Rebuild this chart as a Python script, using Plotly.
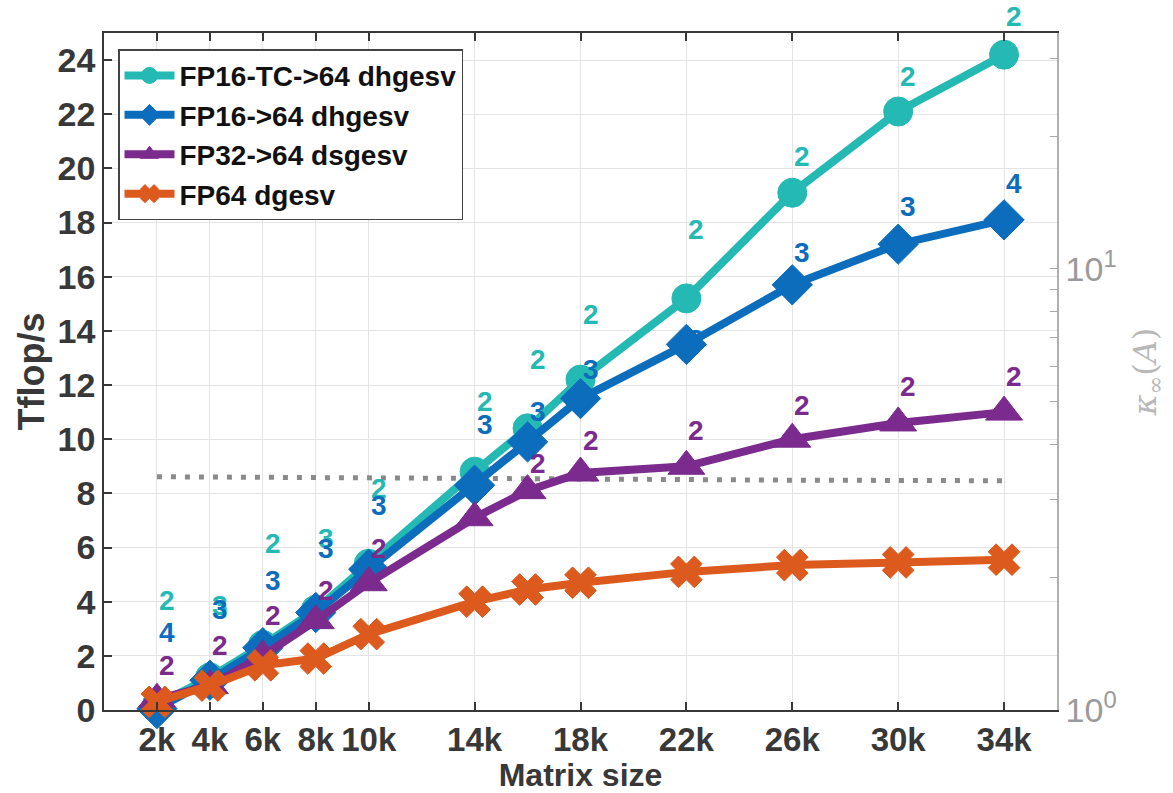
import plotly.graph_objects as go

# ---------------- data ----------------
sizes_k = [2, 4, 6, 8, 10, 14, 16, 18, 22, 26, 30, 34]
tick_vals = [2, 4, 6, 8, 10, 14, 18, 22, 26, 30, 34]
tick_text = ["2k", "4k", "6k", "8k", "10k", "14k", "18k", "22k", "26k", "30k", "34k"]

fp16tc = [0.2, 1.2, 2.4, 3.7, 5.4, 8.8, 10.4, 12.2, 15.2, 19.1, 22.1, 24.2]
fp16 = [0.05, 1.1, 2.3, 3.6, 5.2, 8.3, 9.9, 11.5, 13.5, 15.7, 17.2, 18.1]
fp32 = [0.4, 0.9, 2.0, 3.3, 4.7, 7.1, 8.1, 8.75, 9.0, 10.0, 10.6, 11.0]
fp64 = [0.3, 0.9, 1.65, 1.9, 2.8, 4.0, 4.45, 4.7, 5.1, 5.35, 5.45, 5.55]

kappa = [3.38, 3.38, 3.37, 3.37, 3.36, 3.35, 3.35, 3.34, 3.33, 3.32, 3.32, 3.31]

iters_fp16tc = ["2", "3", "2", "3", "2", "2", "2", "2", "2", "2", "2", "2"]
iters_fp16 = ["4", "3", "3", "3", "3", "3", "3", "3", "3", "3", "3", "4"]
iters_fp32 = ["2", "2", "2", "2", "2", "", "2", "2", "2", "2", "2", "2"]

label_y_fp16tc = [4.05, 3.85, 6.15, 6.35, 8.17, 11.41, 12.96, 14.61, 17.74, 20.43, 23.41, 25.62]
label_y_fp16 = [2.87, 3.70, 4.78, 5.95, 7.54, 10.56, 11.04, 12.59, 13.69, 16.89, 18.59, 19.43]
label_y_fp32 = [1.66, 2.39, 3.50, 4.42, 5.96, 8.83, 9.09, 9.94, 10.31, 11.23, 11.96, 12.33]

names = ["FP16-TC->64 dhgesv", "FP16->64 dhgesv", "FP32->64 dsgesv", "FP64 dgesv"]
colors = ["#25b9b3", "#0b6dbb", "#7b2a8d", "#dc5a1e"]

kappa_ticks = [1, 2, 3, 4, 5, 6, 7, 8, 9, 10, 20, 30]
kappa_ticktext = ["10<sup>0</sup>", "", "", "", "", "", "", "", "", "10<sup>1</sup>", "", ""]

Y_MAX = 25.0
PLOT_H = 677  # plot area height in px (793 - 33 - 83)

# ---------------- figure ----------------
fig = go.Figure()

# condition number (right axis, base y axis so that it is drawn below the series)
fig.add_trace(go.Scatter(
    x=sizes_k, y=kappa, mode="lines", yaxis="y",
    line=dict(color="#8a8a8a", width=5, dash="5px,9px"),
    showlegend=False, hoverinfo="skip"))

series = [fp16tc, fp16, fp32, fp64]
symbols = ["circle", "diamond", "triangle-up", "x"]
msizes = [29, 31, 32, 28]
for vals, name, col, sym, ms in zip(series, names, colors, symbols, msizes):
    fig.add_trace(go.Scatter(
        x=sizes_k, y=vals, mode="lines+markers", name=name, yaxis="y2",
        line=dict(color=col, width=8),
        marker=dict(symbol=sym, size=ms, color=col,
                    line=dict(color=col, width=1)),
        cliponaxis=False))

annotations = []
for texts, ys, col in [(iters_fp16tc, label_y_fp16tc, colors[0]),
                       (iters_fp16, label_y_fp16, colors[1]),
                       (iters_fp32, label_y_fp32, colors[2])]:
    for xv, yv, t in zip(sizes_k, ys, texts):
        if not t:
            continue
        y_in = min(yv, Y_MAX)
        annotations.append(dict(
            x=xv, y=y_in, xref="x", yref="y2", text=t, showarrow=False,
            xanchor="left", yanchor="middle",
            yshift=(yv - y_in) * PLOT_H / Y_MAX,
            font=dict(family="Liberation Sans", size=28, color=col, weight="bold")))

dark = "#383838"
fig.update_layout(
    width=1173, height=793,
    margin=dict(l=104, r=116, t=33, b=83),
    paper_bgcolor="white", plot_bgcolor="white",
    annotations=annotations,
    xaxis=dict(
        range=[0, 36], tickvals=tick_vals, ticktext=tick_text,
        ticks="inside", ticklen=8, tickwidth=1.5, tickcolor=dark,
        showline=True, linecolor=dark, linewidth=1.5, mirror="ticks",
        showgrid=True, gridcolor="#e4e4e4", gridwidth=1, zeroline=False,
        tickfont=dict(family="Liberation Sans", size=33, color=dark, weight="bold"),
        title=dict(text="Matrix size", standoff=0,
                   font=dict(family="Liberation Sans", size=32, color=dark, weight="bold")),
    ),
    yaxis=dict(
        type="log", range=[0, 1.535], side="right",
        tickvals=kappa_ticks, ticktext=kappa_ticktext,
        ticks="inside", ticklen=7, tickcolor="#a8a8a8",
        showline=True, linecolor="#b0b0b0", linewidth=1.5,
        showgrid=False, zeroline=False,
        tickfont=dict(family="Liberation Sans", size=34, color="#9a9a9a"),
        title=dict(text="<i>κ</i><sub>∞</sub>(<i>A</i>)", standoff=18,
                   font=dict(family="DejaVu Serif", size=32, color="#b8b8b8")),
    ),
    yaxis2=dict(
        overlaying="y", side="left", range=[0, Y_MAX], dtick=2, tick0=0,
        ticks="inside", ticklen=8, tickwidth=1.5, tickcolor=dark,
        showline=True, linecolor=dark, linewidth=1.5,
        showgrid=True, gridcolor="#e4e4e4", gridwidth=1, zeroline=False,
        tickfont=dict(family="Liberation Sans", size=34, color=dark, weight="bold"),
        title=dict(text="Tflop/s", standoff=2,
                   font=dict(family="Liberation Sans", size=36, color=dark, weight="bold")),
    ),
    legend=dict(
        x=0.0147, y=0.976, xanchor="left", yanchor="top",
        bgcolor="white", bordercolor="#444444", borderwidth=1.5,
        font=dict(family="Liberation Sans", size=28, color="#111111", weight="bold"),
        itemsizing="trace", itemwidth=50, tracegroupgap=0,
    ),
)

fig.write_html("out.html")
